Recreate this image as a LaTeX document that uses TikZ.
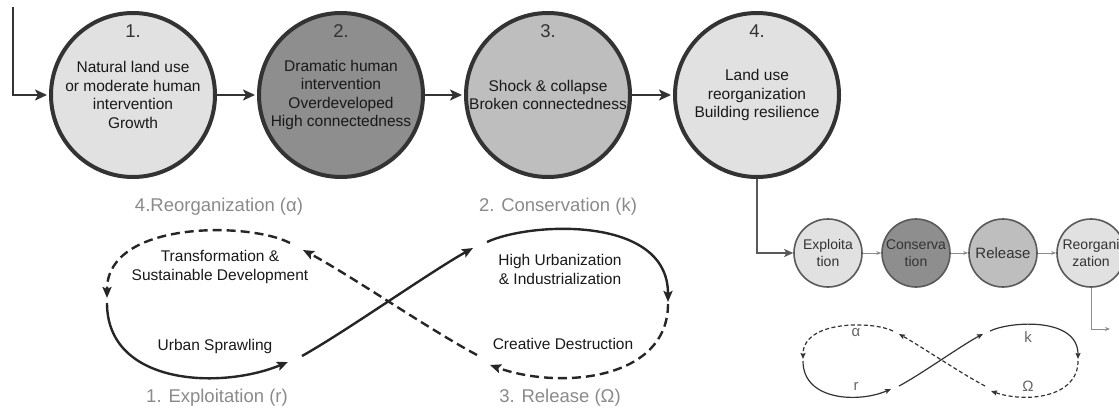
\documentclass[tikz,border=0pt]{standalone}
\usepackage{fontspec}
\setmainfont{Liberation Sans}
\usetikzlibrary{arrows.meta}
\definecolor{cycledark}{HTML}{333333}
\definecolor{cyclelight}{HTML}{E1E1E1}
\definecolor{cyclemid}{HTML}{BEBEBE}
\definecolor{cycledeep}{HTML}{8E8E8E}
\definecolor{cyclegrey}{HTML}{8A8A8A}

\begin{document}
\begin{tikzpicture}[x=1pt,y=-1pt]
  \tikzstyle{phase}=[circle,draw=cycledark,line width=4pt,minimum size=164pt,inner sep=0pt,
    align=center,text=black!90,font=\fontsize{15.5}{18.5}\selectfont]
  \tikzstyle{num}=[text=cycledark,font=\fontsize{18.5}{22}\selectfont]
  \tikzstyle{mini}=[circle,draw=black!65,line width=1.6pt,minimum size=68pt,inner sep=0pt,
    align=center,text=black!80,font=\fontsize{14}{17}\selectfont]
  \tikzstyle{stagename}=[text=cyclegrey,font=\fontsize{18.5}{22}\selectfont]
  \tikzstyle{loopnote}=[align=center,text=black!90,font=\fontsize{15.5}{19}\selectfont]
  \tikzstyle{greek}=[text=black!60,font=\fontsize{15}{18}\selectfont]
  \tikzstyle{flow}=[-{Stealth[length=12pt,width=11pt,inset=3pt]},cycledark,line width=2.5pt,shorten >=2pt]
  \tikzstyle{thinflow}=[-{Stealth[length=9pt,width=8pt,inset=2pt]},black!65,line width=2pt]
  \tikzstyle{miniflow}=[-{Stealth[length=5pt,width=4pt]},black!45,line width=1pt]
  \tikzstyle{bigloop}=[-{Stealth[length=11pt,width=9pt,inset=2pt]},black!85,line width=2.4pt]
  \tikzstyle{bigdash}=[bigloop,dash pattern=on 9pt off 5pt]
  \tikzstyle{smallloop}=[-{Stealth[length=6pt,width=5pt,inset=1pt]},black!80,line width=1.2pt]
  \tikzstyle{smalldash}=[smallloop,dash pattern=on 4pt off 2.5pt]

  \useasboundingbox (0,0) rectangle (1119,409);
  \clip (0,0) rectangle (1119,409);

  % -- Phases of land use --
  \node[phase,fill=cyclelight] (grow) at (133,95) {Natural land use\\or moderate human\\intervention\\Growth};
  \node[phase,fill=cycledeep] (boom) at (341,95) {Dramatic human\\intervention\\Overdeveloped\\High connectedness};
  \node[phase,fill=cyclemid] (shock) at (548,95) {Shock \& collapse\\Broken connectedness};
  \node[phase,fill=cyclelight] (renew) at (757,95) {Land use\\reorganization\\Building resilience};
  \node[num] (n1) at (133,31) {1.};
  \node[num] (n2) at (341,31) {2.};
  \node[num] (n3) at (548,31) {3.};
  \node[num] (n4) at (757,31) {4.};

  % -- Flows between phases --
  \coordinate (entry) at (13,7);
  \draw[flow] (entry) |- (grow.west);
  \draw[flow] (grow) -- (boom);
  \draw[flow] (boom) -- (shock);
  \draw[flow] (shock) -- (renew);

  % -- Adaptive cycle chain --
  \node[mini,fill=cyclelight] (exploit) at (828,253) {Exploita\\tion};
  \node[mini,fill=cycledeep] (conserve) at (916,253) {Conserva\\tion};
  \node[mini,fill=cyclemid,font=\fontsize{15}{18}\selectfont] (release) at (1003,253) {Release};
  \node[mini,fill=cyclelight] (reorg) at (1091,253) {Reorgani\\zation};
  \coordinate (exit) at (1110,329);
  \draw[thinflow] (renew.south) |- (exploit.west);
  \draw[miniflow] (exploit) -- (conserve);
  \draw[miniflow] (conserve) -- (release);
  \draw[miniflow] (release) -- (reorg);
  \draw[miniflow] (reorg.south) |- (exit);

  % -- Large figure eight --
  \node[stagename] (alpha) at (219,207) {4.Reorganization (α)};
  \node[stagename] (kappa) at (558,207) {2. Conservation (k)};
  \node[stagename] (rho) at (217,398) {1. Exploitation (r)};
  \node[stagename] (omega) at (560,398) {3. Release (Ω)};
  \node[loopnote] (transform) at (220,267) {Transformation \&\\Sustainable Development};
  \node[loopnote] (sprawl) at (215,346) {Urban Sprawling};
  \node[loopnote] (urban) at (560,269) {High Urbanization\\\& Industrialization};
  \node[loopnote] (destroy) at (563,344) {Creative Destruction};
  \draw[bigloop] (107,303) .. controls (107,385) and (220,390) .. (288,362);
  \draw[bigloop] (302,356) .. controls (345,332) and (430,272) .. (473,248);
  \draw[bigloop] (487,242) .. controls (530,222) and (668,215) .. (668,302);
  \draw[bigdash] (668,304) .. controls (668,380) and (560,390) .. (490,365);
  \draw[bigdash] (477,355) .. controls (430,330) and (350,275) .. (303,250);
  \draw[bigdash] (290,243) .. controls (250,222) and (107,220) .. (107,298);

  % -- Small figure eight --
  \node[greek] (sa) at (856,333) {α};
  \node[greek] (sr) at (856,386) {r};
  \node[greek] (sk) at (1028,337) {k};
  \node[greek] (so) at (1028,386) {Ω};
  \draw[smallloop] (803,361) .. controls (803,401) and (859,403) .. (891,389);
  \draw[smallloop] (899,386) .. controls (920,375) and (962,345) .. (983,334);
  \draw[smallloop] (990,331) .. controls (1011,321) and (1078,317) .. (1078,359);
  \draw[smalldash] (1078,361) .. controls (1078,398) and (1025,403) .. (991,391);
  \draw[smalldash] (985,386) .. controls (962,374) and (922,347) .. (899,334);
  \draw[smalldash] (893,331) .. controls (873,321) and (803,320) .. (803,359);
\end{tikzpicture}
\end{document}
